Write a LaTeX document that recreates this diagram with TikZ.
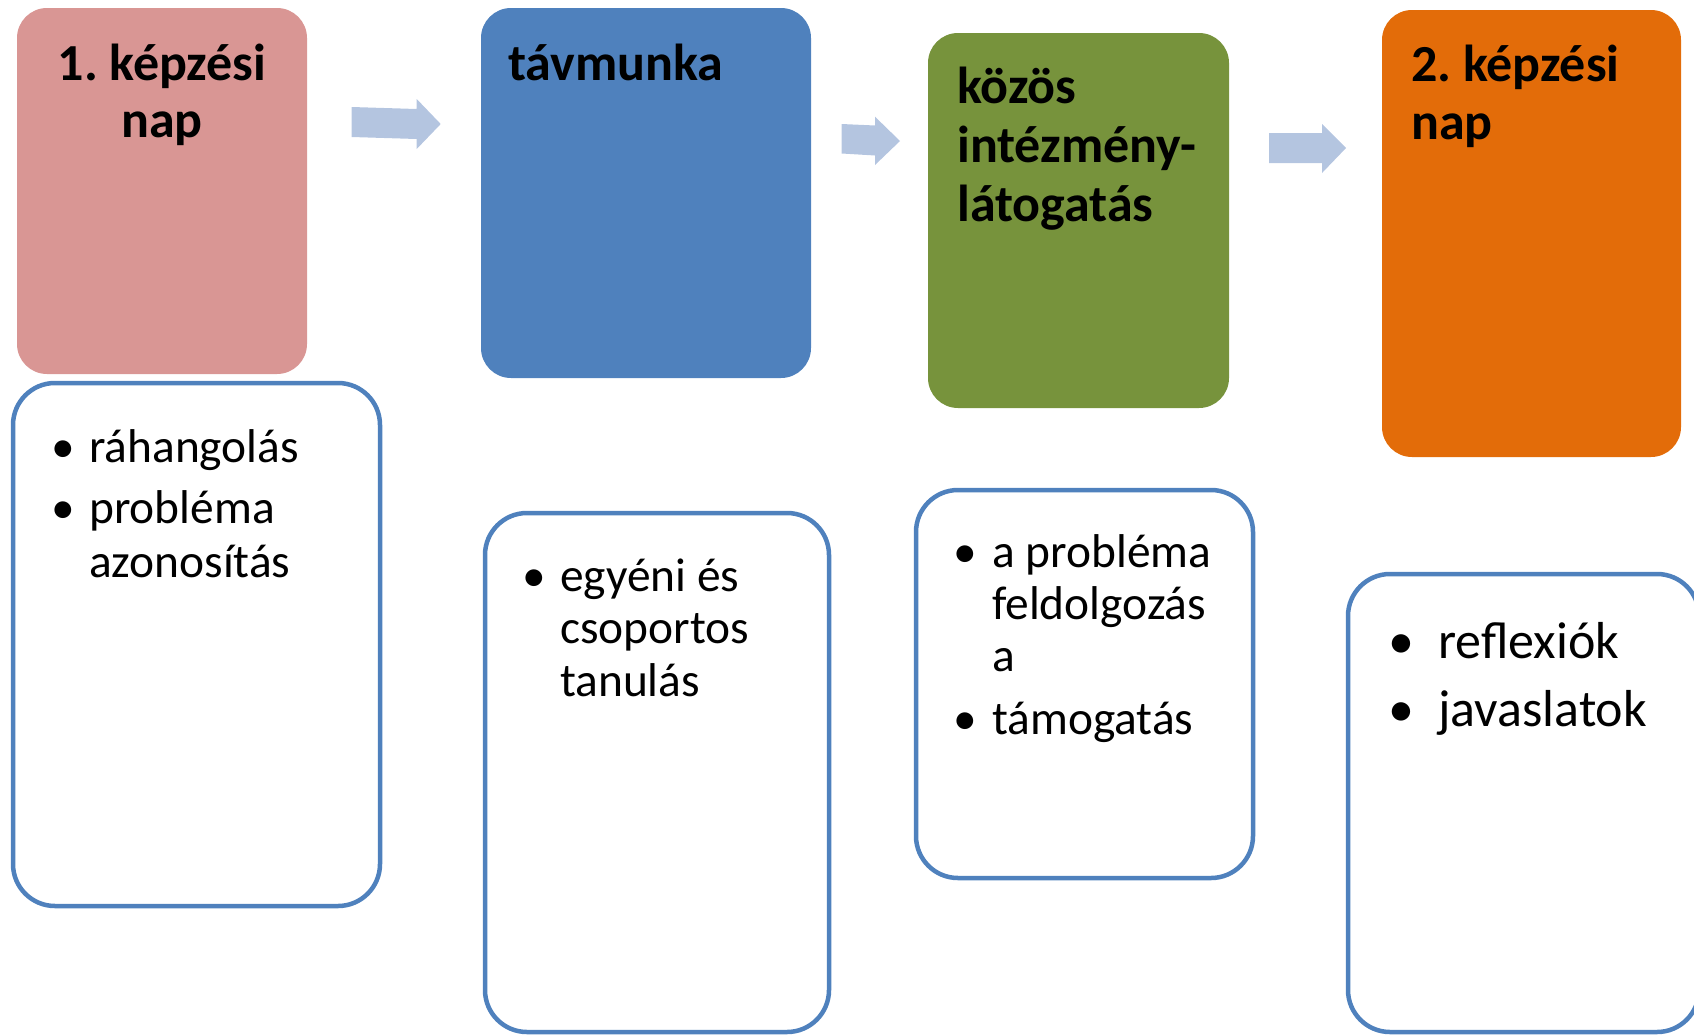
\documentclass[tikz,border=0pt]{standalone}
\usepackage{fontspec}
\setmainfont{Carlito}
\frenchspacing
\definecolor{pinkbox}{RGB}{217,150,148}
\definecolor{bluebox}{RGB}{79,129,189}
\definecolor{greenbox}{RGB}{119,147,60}
\definecolor{orangebox}{RGB}{227,108,9}
\definecolor{arrowfill}{RGB}{180,197,224}
\begin{document}
\begin{tikzpicture}[x=1pt,y=-1pt,
  topbox/.style={rounded corners=30pt, inner sep=0pt, outer sep=0pt, anchor=north west},
  listbox/.style={draw=bluebox, line width=4.5pt, fill=white, rounded corners=42pt, inner sep=0pt, outer sep=0pt, anchor=north west},
  headw/.style={font=\fontsize{52}{57}\selectfont\bfseries, inner sep=0pt, anchor=base west},
  headc/.style={font=\fontsize{52}{57}\selectfont\bfseries, inner sep=0pt, anchor=base},
  itemtxt/.style={font=\fontsize{47.4}{52}\selectfont, inner sep=0pt, anchor=base west},
  itembul/.style={font=\fontsize{47.4}{52}\selectfont, inner sep=0pt, anchor=base},
  bigtxt/.style={font=\fontsize{52}{57}\selectfont, inner sep=0pt, anchor=base west},
  bigbul/.style={font=\fontsize{52}{57}\selectfont, inner sep=0pt, anchor=base},
  blockarrow/.style={fill=arrowfill, draw=none}]
\useasboundingbox (0,0) rectangle (1694,1034);
\begin{scope}
\clip (0,0) rectangle (1694,1034);
% top boxes
\node[topbox, fill=pinkbox, minimum width=290pt, minimum height=366pt] (p1) at (17,8) {};
\node[topbox, fill=bluebox, minimum width=330pt, minimum height=370pt] (p2) at (481,8) {};
\node[topbox, fill=greenbox, minimum width=301pt, minimum height=375pt] (p3) at (928,33) {};
\node[topbox, fill=orangebox, minimum width=299pt, minimum height=447pt] (p4) at (1382,10) {};
% headings
\node[headc] (h1a) at (162,80) {1. képzési};
\node[headc] (h1b) at (162,137) {nap};
\node[headw] (h2a) at (508,80) {távmunka};
\node[headw] (h3a) at (957,103) {közös};
\node[headw] (h3b) at (957,162) {intézmény-};
\node[headw] (h3c) at (957,221) {látogatás};
\node[headw] (h4a) at (1411,81) {2. képzési};
\node[headw] (h4b) at (1411,139) {nap};
% block arrows
\fill[blockarrow] (351.7,107) -- (416.7,109) -- (416.7,99) -- (440.7,124) -- (416.7,149) -- (416.7,139) -- (351.7,137) -- cycle;
\fill[blockarrow] (841.7,124) -- (875,125.5) -- (875,116.7) -- (900,141) -- (875,165) -- (875,155.5) -- (841.7,153.5) -- cycle;
\fill[blockarrow] (1269,133) -- (1322,133) -- (1322,124) -- (1346,148) -- (1322,173) -- (1322,163) -- (1269,163) -- cycle;
% list boxes
\node[listbox, minimum width=367pt, minimum height=523pt] (b1) at (13,383) {};
\node[listbox, minimum width=344pt, minimum height=519pt] (b2) at (485,513) {};
\node[listbox, minimum width=337pt, minimum height=388pt] (b3) at (916,490) {};
\node[listbox, minimum width=351pt, minimum height=458pt] (b4) at (1348,574) {};
% list 1
\node[itembul] (u1a) at (63.5,462) {•};
\node[itemtxt] (t1a) at (89,462) {ráhangolás};
\node[itembul] (u1b) at (63.5,523) {•};
\node[itemtxt] (t1b) at (89,523) {probléma};
\node[itemtxt] (t1c) at (89,577) {azonosítás};
% list 2
\node[itembul] (u2a) at (534.5,591) {•};
\node[itemtxt] (t2a) at (560,591) {egyéni és};
\node[itemtxt] (t2b) at (560,643) {csoportos};
\node[itemtxt] (t2c) at (560,696) {tanulás};
% list 3
\node[itembul] (u3a) at (965.5,567) {•};
\node[itemtxt] (t3a) at (992,567) {a probléma};
\node[itemtxt] (t3b) at (992,619) {feldolgozás};
\node[itemtxt] (t3c) at (992,671) {a};
\node[itembul] (u3b) at (965.5,734) {•};
\node[itemtxt] (t3d) at (992,734) {támogatás};
% list 4
\node[bigbul] (u4a) at (1401.5,658) {•};
\node[bigtxt] (t4a) at (1438,658) {reflexiók};
\node[bigbul] (u4b) at (1401.5,726) {•};
\node[bigtxt] (t4b) at (1438,726) {javaslatok};
\end{scope}
\end{tikzpicture}
\end{document}
